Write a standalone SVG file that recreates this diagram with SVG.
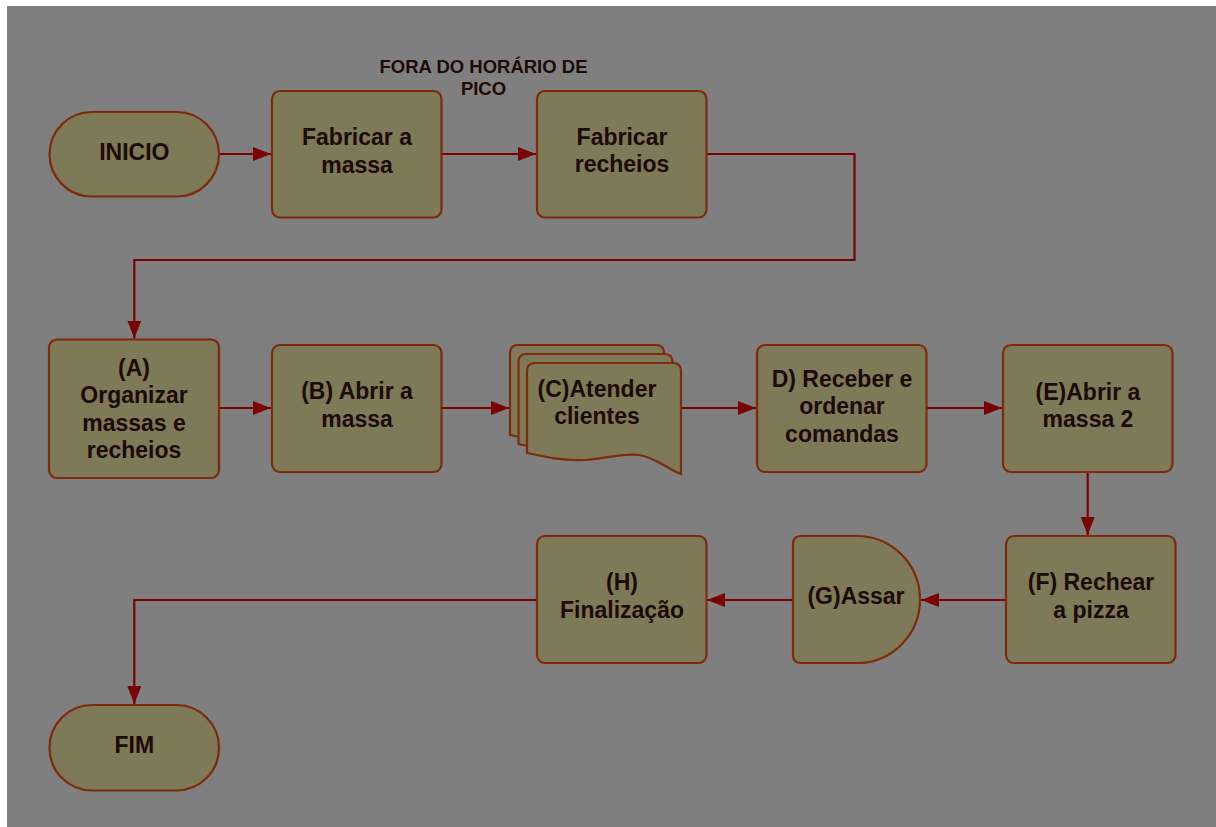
<svg xmlns="http://www.w3.org/2000/svg" xmlns:xlink="http://www.w3.org/1999/xlink" width="1216" height="827" viewBox="0 0 1216 827">
  <style>
    .node { fill: #7e7957; stroke: #7e2a0c; stroke-width: 2.2; }
    .lbl { font-family: "Liberation Sans", Arial, sans-serif; font-weight: bold; font-size: 23px; fill: #1c0a06; text-anchor: middle; }
    .note { font-size: 18.5px; }
    .edge { fill: none; stroke: #7a0202; stroke-width: 2.2; marker-end: url(#arrow); }
  </style>
  <defs>
    <marker id="arrow" markerUnits="userSpaceOnUse" markerWidth="19" markerHeight="14" refX="18" refY="7" orient="auto">
      <path d="M0,0 L18,7 L0,14 Z" fill="#7a0202"/>
    </marker>
    <!-- one sheet of the stacked-document symbol, 154 x 111 -->
    <path id="sheet" d="M8,0 H146 Q154,0 154,8 V111 C 140,106 128,94 112,92 C 94,90 78,96 58,97 C 36,98 18,94 0,90 V8 Q0,0 8,0 Z"/>
  </defs>

  <!-- page -->
  <rect x="0" y="0" width="1216" height="827" fill="#ffffff"/>
  <rect x="7" y="6" width="1209" height="821" fill="#7f7f7f"/>

  <g id="connectors">
    <path class="edge" d="M219,154 H271"/>
    <path class="edge" d="M441,154 H536"/>
    <path class="edge" d="M706,154 H854.5 V260 H134.3 V338.5"/>
    <path class="edge" d="M219,408 H271"/>
    <path class="edge" d="M441,408 H509"/>
    <path class="edge" d="M681,408 H756"/>
    <path class="edge" d="M926,408 H1002"/>
    <path class="edge" d="M1087.7,472 V535"/>
    <path class="edge" d="M1006,600 H921"/>
    <path class="edge" d="M793,600 H707"/>
    <path class="edge" d="M537,600 H134.3 V704"/>
  </g>

  <g id="note-off-peak">
    <text class="lbl note" x="483.5" y="72.5">FORA DO HORÁRIO DE</text>
    <text class="lbl note" x="483.5" y="94.5">PICO</text>
  </g>

  <g id="inicio">
    <rect class="node" x="49.5" y="112" width="169.5" height="84.5" rx="42.2"/>
    <text class="lbl" x="134.3" y="159.5">INICIO</text>
  </g>

  <g id="fabricar-massa">
    <rect class="node" x="272" y="91" width="169.5" height="126.5" rx="8"/>
    <text class="lbl" x="357" y="144.5">Fabricar a</text>
    <text class="lbl" x="357" y="172.5">massa</text>
  </g>

  <g id="fabricar-recheios">
    <rect class="node" x="537" y="91" width="169.5" height="126.5" rx="8"/>
    <text class="lbl" x="622" y="144.5">Fabricar</text>
    <text class="lbl" x="622" y="172">recheios</text>
  </g>

  <g id="a-organizar">
    <rect class="node" x="49" y="339.5" width="170" height="138.5" rx="8"/>
    <text class="lbl" x="134" y="375.5">(A)</text>
    <text class="lbl" x="134" y="403">Organizar</text>
    <text class="lbl" x="134" y="430.5">massas e</text>
    <text class="lbl" x="134" y="458">recheios</text>
  </g>

  <g id="b-abrir">
    <rect class="node" x="272" y="345" width="169.5" height="127" rx="8"/>
    <text class="lbl" x="357" y="399">(B) Abrir a</text>
    <text class="lbl" x="357" y="427">massa</text>
  </g>

  <g id="c-atender">
    <use xlink:href="#sheet" class="node" x="510" y="345"/>
    <use xlink:href="#sheet" class="node" x="518.5" y="354"/>
    <use xlink:href="#sheet" class="node" x="527" y="363"/>
    <text class="lbl" x="597" y="397">(C)Atender</text>
    <text class="lbl" x="597" y="423.5">clientes</text>
  </g>

  <g id="d-receber">
    <rect class="node" x="757" y="345" width="169.5" height="127" rx="8"/>
    <text class="lbl" x="842" y="386.5">D) Receber e</text>
    <text class="lbl" x="842" y="414">ordenar</text>
    <text class="lbl" x="842" y="442">comandas</text>
  </g>

  <g id="e-abrir">
    <rect class="node" x="1003" y="345" width="169.5" height="127" rx="8"/>
    <text class="lbl" x="1088" y="399.5">(E)Abrir a</text>
    <text class="lbl" x="1088" y="427">massa 2</text>
  </g>

  <g id="f-rechear">
    <rect class="node" x="1006" y="536" width="169.5" height="127" rx="8"/>
    <text class="lbl" x="1091" y="590">(F) Rechear</text>
    <text class="lbl" x="1091" y="618">a pizza</text>
  </g>

  <g id="g-assar">
    <path class="node" d="M801,536 H857 A63,63.5 0 0 1 857,663 H801 Q793,663 793,655 V544 Q793,536 801,536 Z"/>
    <text class="lbl" x="856" y="603.5">(G)Assar</text>
  </g>

  <g id="h-finalizacao">
    <rect class="node" x="537" y="536" width="169.5" height="127" rx="8"/>
    <text class="lbl" x="622" y="590">(H)</text>
    <text class="lbl" x="622" y="618">Finalização</text>
  </g>

  <g id="fim">
    <rect class="node" x="49.5" y="705" width="169.5" height="85.5" rx="42.5"/>
    <text class="lbl" x="134.3" y="753">FIM</text>
  </g>
</svg>
